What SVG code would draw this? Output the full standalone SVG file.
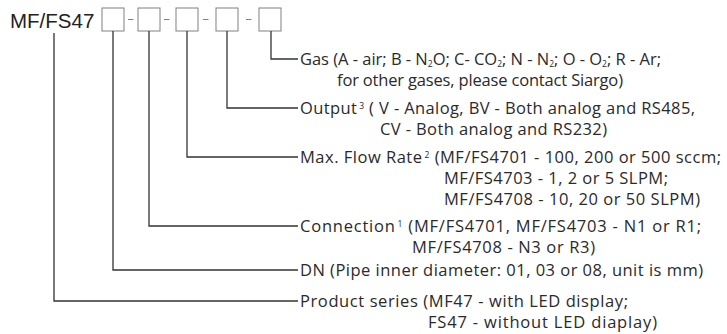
<svg xmlns="http://www.w3.org/2000/svg" width="727" height="334" viewBox="0 0 727 334">
<style>
.bg{fill:#ffffff}
.title{font-family:"Liberation Sans",Arial,sans-serif;font-size:20.5px;fill:#222}
.box{fill:#ffffff;stroke:#808080;stroke-width:1}
.dash{stroke:#808080;stroke-width:1}
.conn{fill:none;stroke:#333;stroke-width:1.3}
.lbl{font-family:"Open Sans","Noto Sans",sans-serif;font-size:16.5px;fill:#2a2a2a}
.sub{font-size:8.5px}
.sup{font-size:8.5px}
</style>
<rect class="bg" x="0" y="0" width="727" height="334"/>
<g id="title">
<text class="title" x="10" y="27.5">MF/FS47</text>
</g>
<g id="box1"><rect class="box" x="102" y="8" width="22" height="23"/></g>
<g id="box2"><rect class="box" x="138" y="8" width="22" height="23"/></g>
<g id="box3"><rect class="box" x="176" y="8" width="22" height="23"/></g>
<g id="box4"><rect class="box" x="216" y="8" width="22" height="23"/></g>
<g id="box5"><rect class="box" x="259" y="8" width="22" height="23"/></g>
<g id="dashes">
<line class="dash" x1="128" y1="19.5" x2="133.5" y2="19.5"/>
<line class="dash" x1="164" y1="19.5" x2="169.5" y2="19.5"/>
<line class="dash" x1="203" y1="19.5" x2="208.5" y2="19.5"/>
<line class="dash" x1="246" y1="19.5" x2="251.5" y2="19.5"/>
</g>
<g id="connectors">
<polyline class="conn" points="54,33 54,301 298,301"/>
<polyline class="conn" points="113,31 113,270 298,270"/>
<polyline class="conn" points="149,31 149,226 298,226"/>
<polyline class="conn" points="187,31 187,157 298,157"/>
<polyline class="conn" points="227,31 227,108 298,108"/>
<polyline class="conn" points="271,31 271,59 298,59"/>
</g>
<g id="gas">
<text class="lbl" x="300" y="65" textLength="361" lengthAdjust="spacing">Gas (A - air; B - N<tspan class="sub" baseline-shift="-2">2</tspan>O; C- CO<tspan class="sub" baseline-shift="-2">2</tspan>; N - N<tspan class="sub" baseline-shift="-2">2</tspan>; O - O<tspan class="sub" baseline-shift="-2">2</tspan>; R - Ar;</text>
<text class="lbl" x="337" y="86" textLength="286" lengthAdjust="spacing">for other gases, please contact Siargo)</text>
</g>
<g id="output">
<text class="lbl" x="300" y="114" textLength="395" lengthAdjust="spacing">Output<tspan class="sup" dx="2" baseline-shift="super">3</tspan> ( V - Analog, BV - Both analog and RS485,</text>
<text class="lbl" x="380" y="135" textLength="227" lengthAdjust="spacing">CV - Both analog and RS232)</text>
</g>
<g id="maxflow">
<text class="lbl" x="300" y="163" textLength="421" lengthAdjust="spacing">Max. Flow Rate<tspan class="sup" dx="2" baseline-shift="super">2</tspan> (MF/FS4701 - 100, 200 or 500 sccm;</text>
<text class="lbl" x="444" y="184" textLength="224" lengthAdjust="spacing">MF/FS4703 - 1, 2 or 5 SLPM;</text>
<text class="lbl" x="444" y="205" textLength="256" lengthAdjust="spacing">MF/FS4708 - 10, 20 or 50 SLPM)</text>
</g>
<g id="connection">
<text class="lbl" x="300" y="232" textLength="401" lengthAdjust="spacing">Connection<tspan class="sup" dx="2" baseline-shift="super">1</tspan> (MF/FS4701, MF/FS4703 - N1 or R1;</text>
<text class="lbl" x="412" y="253" textLength="183" lengthAdjust="spacing">MF/FS4708 - N3 or R3)</text>
</g>
<g id="dn">
<text class="lbl" x="300" y="276" textLength="403" lengthAdjust="spacing">DN (Pipe inner diameter: 01, 03 or 08, unit is mm)</text>
</g>
<g id="product">
<text class="lbl" x="300" y="307" textLength="328" lengthAdjust="spacing">Product series (MF47 - with LED display;</text>
<text class="lbl" x="428" y="328" textLength="229" lengthAdjust="spacing">FS47 - without LED diaplay)</text>
</g>
</svg>
